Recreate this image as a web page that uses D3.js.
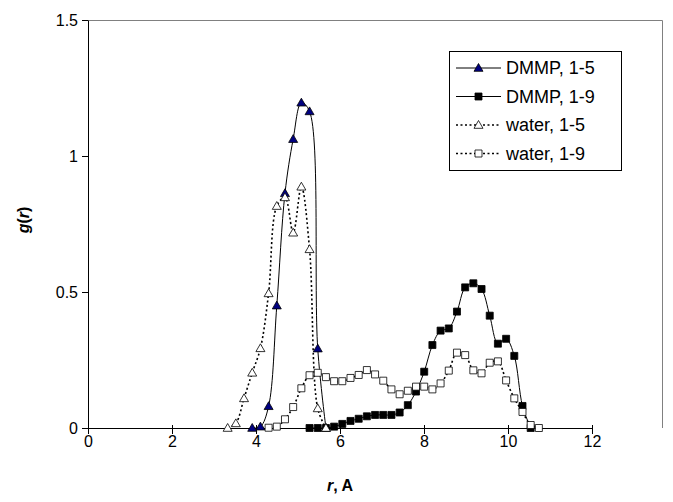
<!DOCTYPE html>
<html>
<head>
<meta charset="utf-8">
<script src="https://cdn.jsdelivr.net/npm/d3@7"></script>
<style>
  body { margin: 0; background: #fff; }
  text { font-family: "Liberation Sans", Arial, sans-serif; }
</style>
</head>
<body>
<div id="chart"></div>
<script>
// g(r) values (r step is about 0.195 A)
const dmmp15X = [3.91, 4.105, 4.3, 4.495, 4.69, 4.885, 5.08, 5.275, 5.47, 5.665];
const dmmp15Y = [0, 0.005, 0.08, 0.45, 0.863, 1.062, 1.196, 1.164, 0.292, 0];

const dmmp19X = [5.275, 5.47, 5.665, 5.86, 6.055, 6.25, 6.445, 6.64, 6.835, 7.03, 7.225, 7.42, 7.615, 7.81,
                 8.005, 8.2, 8.395, 8.59, 8.785, 8.98, 9.175, 9.37, 9.565, 9.76, 9.955, 10.15, 10.345, 10.54];
const dmmp19Y = [0, 0, 0, 0.005, 0.015, 0.026, 0.034, 0.043, 0.048, 0.048, 0.048, 0.057, 0.084, 0.134,
                 0.207, 0.305, 0.358, 0.366, 0.428, 0.517, 0.532, 0.511, 0.413, 0.31, 0.328, 0.265, 0.081, 0];

const water15X = [3.325, 3.52, 3.715, 3.91, 4.105, 4.3, 4.495, 4.69, 4.885, 5.08, 5.275, 5.47, 5.665];
const water15Y = [0, 0.017, 0.109, 0.203, 0.293, 0.495, 0.816, 0.848, 0.718, 0.887, 0.657, 0.072, 0];

const water19X = [4.3, 4.495, 4.69, 4.885, 5.08, 5.275, 5.47, 5.665, 5.86, 6.055, 6.25, 6.445, 6.64, 6.835,
                  7.03, 7.225, 7.42, 7.615, 7.81, 8.005, 8.2, 8.395, 8.59, 8.785, 8.98, 9.175, 9.37, 9.565,
                  9.76, 9.955, 10.15, 10.345, 10.54, 10.735];
const water19Y = [0.001, 0.005, 0.032, 0.077, 0.146, 0.194, 0.203, 0.187, 0.172, 0.172, 0.184, 0.195, 0.213,
                  0.197, 0.174, 0.142, 0.124, 0.137, 0.152, 0.152, 0.142, 0.164, 0.211, 0.277, 0.268, 0.212,
                  0.201, 0.24, 0.245, 0.175, 0.109, 0.059, 0.011, 0];

const seriesNames = ["DMMP, 1-5", "DMMP, 1-9", "water, 1-5", "water, 1-9"];
const xTicks = [0, 2, 4, 6, 8, 10, 12];
const yTicks = [0, 0.5, 1, 1.5];

const width = 673, height = 502;
const plotLeft = 88, plotRight = 592, plotTop = 20, plotBottom = 428;

const svg = d3.select("#chart").append("svg")
    .attr("width", width)
    .attr("height", height);

const x = d3.scaleLinear().domain([0, 12]).range([plotLeft, plotRight]);
const y = d3.scaleLinear().domain([0, 1.5]).range([plotBottom, plotTop]);

const series = [
    {name: seriesNames[0], xs: dmmp15X, ys: dmmp15Y, dash: null, marker: "triangle", fill: "#000080"},
    {name: seriesNames[1], xs: dmmp19X, ys: dmmp19Y, dash: null, marker: "square", fill: "#000"},
    {name: seriesNames[2], xs: water15X, ys: water15Y, dash: "2,2.5", marker: "triangle", fill: "#fff"},
    {name: seriesNames[3], xs: water19X, ys: water19Y, dash: "2,2.5", marker: "square", fill: "#fff"}
];

// plot area frame (top and right)
svg.append("path")
    .attr("d", `M${plotLeft},${plotTop + 0.5}H662.5V${plotBottom}`)
    .attr("fill", "none")
    .attr("stroke", "#808080")
    .attr("stroke-width", 1);

// axes
const xAxis = svg.append("g")
    .attr("transform", `translate(0,${plotBottom})`)
    .call(d3.axisBottom(x).tickValues(xTicks).tickSize(6).tickSizeOuter(0).tickFormat(d3.format("d")));
const yAxis = svg.append("g")
    .attr("transform", `translate(${plotLeft},0)`)
    .call(d3.axisLeft(y).tickValues(yTicks).tickSize(6).tickSizeOuter(0).tickFormat(d => d));

[xAxis, yAxis].forEach(a => {
    a.select(".domain").attr("stroke", "#000");
    a.selectAll(".tick line").attr("stroke", "#000");
    a.selectAll(".tick text").attr("fill", "#000").style("font-size", "16px")
        .style("font-family", "'Liberation Sans', Arial, sans-serif");
});
xAxis.selectAll(".tick line").attr("y1", -3);
xAxis.selectAll(".tick text").attr("dy", "0.6em");
yAxis.selectAll(".tick text").attr("x", -10).attr("dy", "0.35em");

// axis titles
const yTitle = svg.append("text")
    .attr("transform", "translate(29,220) rotate(-90)")
    .attr("text-anchor", "middle")
    .style("font-size", "16px")
    .style("font-weight", "bold");
yTitle.append("tspan").style("font-style", "italic").text("g");
yTitle.append("tspan").text("(");
yTitle.append("tspan").style("font-style", "italic").text("r");
yTitle.append("tspan").text(")");

const xTitle = svg.append("text")
    .attr("x", 340).attr("y", 491)
    .attr("text-anchor", "middle")
    .style("font-size", "16px")
    .style("font-weight", "bold");
xTitle.append("tspan").style("font-style", "italic").text("r");
xTitle.append("tspan").text(", A");

function markerPath(kind) {
    return kind === "triangle"
        ? "M0,-4.5L4.5,3.3L-4.5,3.3Z"
        : "M-3.5,-3.5H3.5V3.5H-3.5Z";
}

const line = d3.line()
    .x(d => x(d[0]))
    .y(d => y(d[1]))
    .curve(d3.curveCatmullRom.alpha(0.5));

series.forEach(s => {
    const pts = s.xs.map((v, i) => [v, s.ys[i]]);
    const g = svg.append("g");
    g.append("path")
        .datum(pts)
        .attr("d", line)
        .attr("fill", "none")
        .attr("stroke", "#000")
        .attr("stroke-width", s.dash ? 1.6 : 1)
        .attr("stroke-dasharray", s.dash);
    g.selectAll("path.m")
        .data(pts)
        .enter()
        .append("path")
        .attr("class", "m")
        .attr("d", markerPath(s.marker))
        .attr("transform", d => `translate(${x(d[0])},${y(d[1])})`)
        .attr("fill", s.fill)
        .attr("stroke", "#000")
        .attr("stroke-width", 0.8);
});

// legend
const legend = svg.append("g");
legend.append("rect")
    .attr("x", 449.5).attr("y", 51.5)
    .attr("width", 172).attr("height", 119)
    .attr("fill", "#fff")
    .attr("stroke", "#000");

series.forEach((s, i) => {
    const ly = 68 + i * 28.5;
    legend.append("line")
        .attr("x1", 456).attr("x2", 501)
        .attr("y1", ly).attr("y2", ly)
        .attr("stroke", "#000")
        .attr("stroke-width", s.dash ? 1.6 : 1)
        .attr("stroke-dasharray", s.dash);
    legend.append("path")
        .attr("d", markerPath(s.marker))
        .attr("transform", `translate(478.5,${ly})`)
        .attr("fill", s.fill)
        .attr("stroke", "#000")
        .attr("stroke-width", 0.8);
    legend.append("text")
        .attr("x", 506).attr("y", ly)
        .attr("dy", "0.36em")
        .style("font-size", "18px")
        .text(s.name);
});
</script>
</body>
</html>
